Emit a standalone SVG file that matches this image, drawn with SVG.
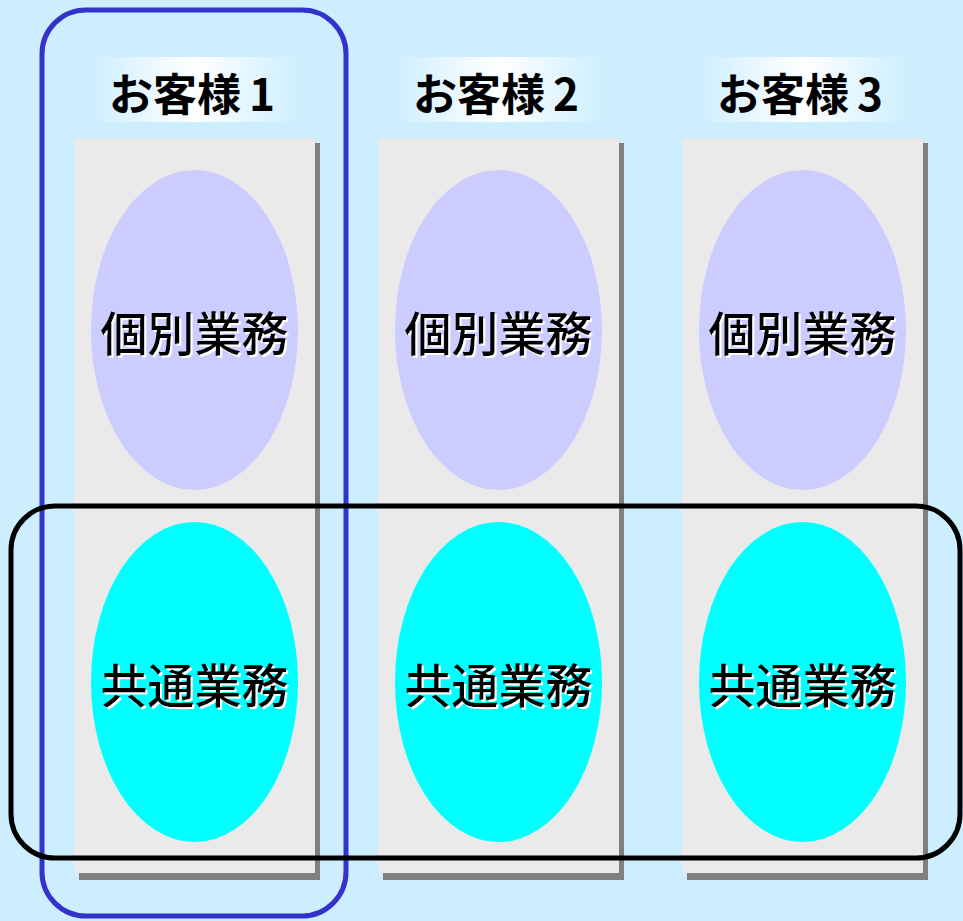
<svg xmlns="http://www.w3.org/2000/svg" width="963" height="921" viewBox="0 0 963 921">
<style>
.col{fill:#eaeaea}
.sh{fill:#808080}
.ind{fill:#ccccff}
.com{fill:#00ffff}
.hd{font-family:"Noto Sans CJK JP",sans-serif;font-size:44px;font-weight:bold;fill:#000;text-anchor:middle}
.lb{font-family:"Noto Sans CJK JP",sans-serif;font-size:47px;font-weight:500;text-anchor:middle;fill:#000;filter:url(#ws)}
</style>
<defs>
<linearGradient id="hg" x1="0" y1="0" x2="1" y2="0">
<stop offset="0" stop-color="#cceeff"/>
<stop offset="0.5" stop-color="#ffffff"/>
<stop offset="1" stop-color="#cceeff"/>
</linearGradient>
<filter id="ws" x="-10%" y="-20%" width="120%" height="140%">
<feDropShadow dx="2" dy="2" stdDeviation="0" flood-color="#ffffff" flood-opacity="1"/>
</filter>
</defs>
<rect x="0" y="0" width="963" height="921" fill="#cceeff"/>
<g id="customer1">
<rect x="88" y="57" width="214" height="65" fill="url(#hg)"/>
<text class="hd" x="192" y="111">お客様<tspan dx="8">1</tspan></text>
<rect class="sh" x="79" y="143" width="241" height="737"/>
<rect class="col" x="74" y="138" width="241" height="735"/>
</g>
<g id="customer2">
<rect x="392" y="57" width="214" height="65" fill="url(#hg)"/>
<text class="hd" x="496" y="111">お客様<tspan dx="8">2</tspan></text>
<rect class="sh" x="383" y="143" width="241" height="737"/>
<rect class="col" x="378" y="138" width="241" height="735"/>
</g>
<g id="customer3">
<rect x="696" y="57" width="214" height="65" fill="url(#hg)"/>
<text class="hd" x="800" y="111">お客様<tspan dx="8">3</tspan></text>
<rect class="sh" x="687" y="143" width="241" height="737"/>
<rect class="col" x="682" y="138" width="241" height="735"/>
</g>
<g id="indiv1">
<ellipse class="ind" cx="194.5" cy="330" rx="103.5" ry="160"/>
<text class="lb" x="194.5" y="351">個別業務</text>
</g>
<g id="indiv2">
<ellipse class="ind" cx="498.5" cy="330" rx="103.5" ry="160"/>
<text class="lb" x="498.5" y="351">個別業務</text>
</g>
<g id="indiv3">
<ellipse class="ind" cx="802.5" cy="330" rx="103.5" ry="160"/>
<text class="lb" x="802.5" y="351">個別業務</text>
</g>
<g id="common1">
<ellipse class="com" cx="194.5" cy="682" rx="103.5" ry="160"/>
<text class="lb" x="194.5" y="703">共通業務</text>
</g>
<g id="common2">
<ellipse class="com" cx="498.5" cy="682" rx="103.5" ry="160"/>
<text class="lb" x="498.5" y="703">共通業務</text>
</g>
<g id="common3">
<ellipse class="com" cx="802.5" cy="682" rx="103.5" ry="160"/>
<text class="lb" x="802.5" y="703">共通業務</text>
</g>
<g id="connectors">
<rect id="customerGroup" x="42" y="10" width="304" height="906" rx="44" ry="44" fill="none" stroke="#3333cc" stroke-width="5"/>
<rect id="commonGroup" x="11" y="506" width="949" height="352" rx="44" ry="44" fill="none" stroke="#000" stroke-width="5"/>
</g>
</svg>
